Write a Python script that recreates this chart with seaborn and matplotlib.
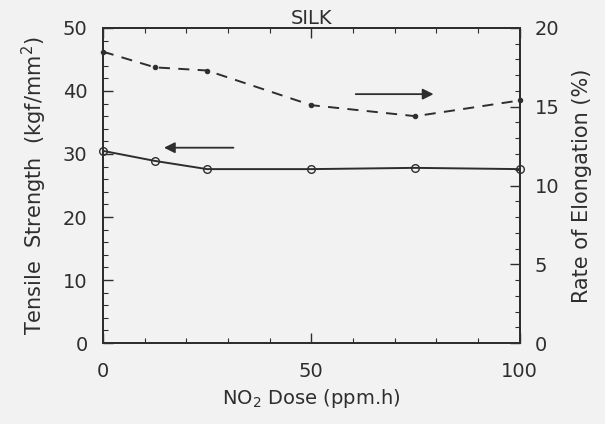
import numpy as np
import pandas as pd
import matplotlib
matplotlib.use("Agg")
import matplotlib.pyplot as plt
import seaborn as sns
from matplotlib.ticker import MultipleLocator

sns.set_style("ticks")
plt.rcParams["font.family"] = ["DejaVu Sans"]
plt.rcParams["lines.scale_dashes"] = False
plt.rcParams["mathtext.fontset"] = "dejavusans"

# data
dose = [0, 12.5, 25, 50, 75, 100]
tensile = [30.5, 28.9, 27.6, 27.6, 27.8, 27.6]
elongation = [18.5, 17.5, 17.3, 15.1, 14.4, 15.4]

df = pd.DataFrame({"dose": dose, "tensile": tensile, "elongation": elongation})

bg = "#f2f2f2"
ink = "#2e2e2e"
fig = plt.figure(figsize=(6.05, 4.24), dpi=100, facecolor=bg)
ax = fig.add_axes([0.170, 0.191, 0.689, 0.743])
ax.set_facecolor(bg)
ax2 = ax.twinx()

sns.lineplot(data=df, x="dose", y="tensile", ax=ax, color=ink, lw=1.4,
             marker="o", markersize=5.5, markerfacecolor="none",
             markeredgecolor=ink, markeredgewidth=1.0, clip_on=False)
sns.lineplot(data=df, x="dose", y="elongation", ax=ax2, color=ink, lw=1.4,
             marker="o", markersize=3.2, markerfacecolor=ink,
             markeredgecolor=ink, clip_on=False)
ax2.lines[-1].set_dashes((8, 6))

ax.set_xlim(0, 100)
ax.set_ylim(0, 50)
ax2.set_ylim(0, 20)

ax.xaxis.set_major_locator(MultipleLocator(50))
ax.xaxis.set_minor_locator(MultipleLocator(10))
ax.yaxis.set_major_locator(MultipleLocator(10))
ax.yaxis.set_minor_locator(MultipleLocator(2))
ax2.yaxis.set_major_locator(MultipleLocator(5))
ax2.yaxis.set_minor_locator(MultipleLocator(1))

fs = 14
ax.tick_params(axis="both", which="both", direction="in", top=True,
               labelsize=fs, colors=ink)
ax.tick_params(axis="x", pad=14)
ax.tick_params(axis="y", pad=11, right=False)
ax.tick_params(which="major", length=7, width=1)
ax.tick_params(which="minor", length=3.5, width=0.8)
ax2.tick_params(axis="y", which="both", direction="in", labelsize=fs,
                colors=ink, pad=11)
ax2.tick_params(which="major", length=7, width=1)
ax2.tick_params(which="minor", length=3.5, width=0.8)

for a in (ax, ax2):
    for s in a.spines.values():
        s.set_color(ink)
        s.set_linewidth(1.4)

ax.set_xlabel("NO$_2$ Dose (ppm.h)", fontsize=14, color=ink, labelpad=4)
ax.set_ylabel("Tensile  Strength  (kgf/mm$^2$)", fontsize=15, color=ink, labelpad=10)
ax2.set_ylabel("Rate of Elongation (%)", fontsize=15, color=ink, labelpad=9)
ax.set_title("SILK", fontsize=14, color=ink, pad=-1)

# direction arrows
ax.annotate("", xy=(14, 31), xytext=(32, 31),
            arrowprops=dict(arrowstyle="-|>", color=ink, lw=1.3, mutation_scale=16))
ax.annotate("", xy=(80, 39.5), xytext=(60, 39.5),
            arrowprops=dict(arrowstyle="-|>", color=ink, lw=1.3, mutation_scale=16))

fig.savefig("out.png", dpi=100, facecolor=fig.get_facecolor())
